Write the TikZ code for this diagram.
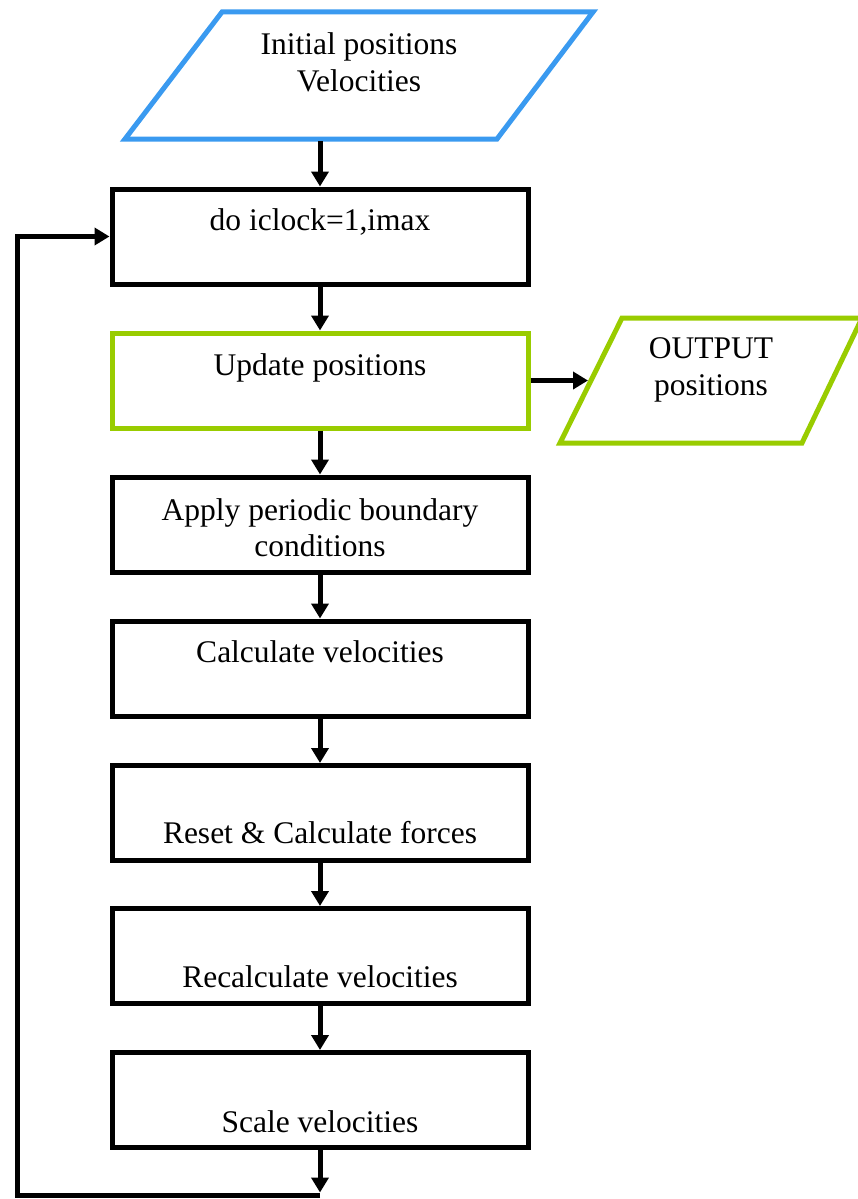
\documentclass[tikz,border=0pt]{standalone}
\usepackage{fontspec}
\setmainfont{Liberation Serif}
\usetikzlibrary{arrows.meta}
\definecolor{ioblue}{RGB}{58,154,240}
\definecolor{outgreen}{RGB}{153,204,0}
\tikzset{
  stepbox/.style={draw=black, line width=5pt, rectangle, minimum width=416pt,
    minimum height=95pt, inner sep=0pt},
  greenbox/.style={stepbox, draw=outgreen},
  lbl/.style={font=\fontsize{31.5}{37}\selectfont, inner sep=0pt, anchor=base, align=center},
  flow/.style={line width=5pt, -{Triangle[width=17pt,length=15pt]}},
  ioshape/.style={line width=5pt, line join=miter},
}
\begin{document}
\begin{tikzpicture}[x=1pt, y=-1pt]
\useasboundingbox (0,0) rectangle (857,1199);

% input parallelogram
\draw[ioshape, draw=ioblue] (222,12) -- (593,12) -- (497,139) -- (125,139) -- cycle;
\node[lbl] (tin1) at (359,55) {Initial positions};
\node[lbl] (tin2) at (359,92) {Velocities};
\coordinate (inbot) at (320,141);

% output parallelogram
\draw[ioshape, draw=outgreen] (622,318) -- (862,318) -- (802,443) -- (560,443) -- cycle;
\node[lbl] (tout1) at (711,358) {OUTPUT};
\node[lbl] (tout2) at (711,395) {positions};

% process boxes
\node[stepbox]  (b1) at (320,236.5) {};
\node[greenbox] (b2) at (320,380.5) {};
\node[stepbox]  (b3) at (320,524.5) {};
\node[stepbox]  (b4) at (320,668.5) {};
\node[stepbox]  (b5) at (320,813) {};
\node[stepbox]  (b6) at (320,956) {};
\node[stepbox]  (b7) at (320,1100) {};
\coordinate (outin) at (588,380.5);

\node[lbl] (t1) at (320,230) {do iclock=1,imax};
\node[lbl] (t2) at (320,375) {Update positions};
\node[lbl] (t3a) at (320,520) {Apply periodic boundary};
\node[lbl] (t3b) at (320,556) {conditions};
\node[lbl] (t4) at (320,662) {Calculate velocities};
\node[lbl] (t5) at (320,843) {Reset \& Calculate forces};
\node[lbl] (t6) at (320,987) {Recalculate velocities};
\node[lbl] (t7) at (320,1132) {Scale velocities};

% connectors
\draw[flow] (inbot) -- (b1.north);
\draw[flow] (b1.south) -- (b2.north);
\draw[flow] (b2.south) -- (b3.north);
\draw[flow] (b3.south) -- (b4.north);
\draw[flow] (b4.south) -- (b5.north);
\draw[flow] (b5.south) -- (b6.north);
\draw[flow] (b6.south) -- (b7.north);
\draw[flow] (b2.east) -- (outin);

% loop back to the start of the time loop
\coordinate (loopend) at (320,1195);
\coordinate (loopbl) at (17,1195);
\coordinate (looptl) at (17,236.5);
\draw[flow] (b7.south) -- ([yshift=2.5pt]loopend);
\draw[flow, line join=miter] (loopend) -- (loopbl) -- (looptl) -- (b1.west);
\end{tikzpicture}
\end{document}
